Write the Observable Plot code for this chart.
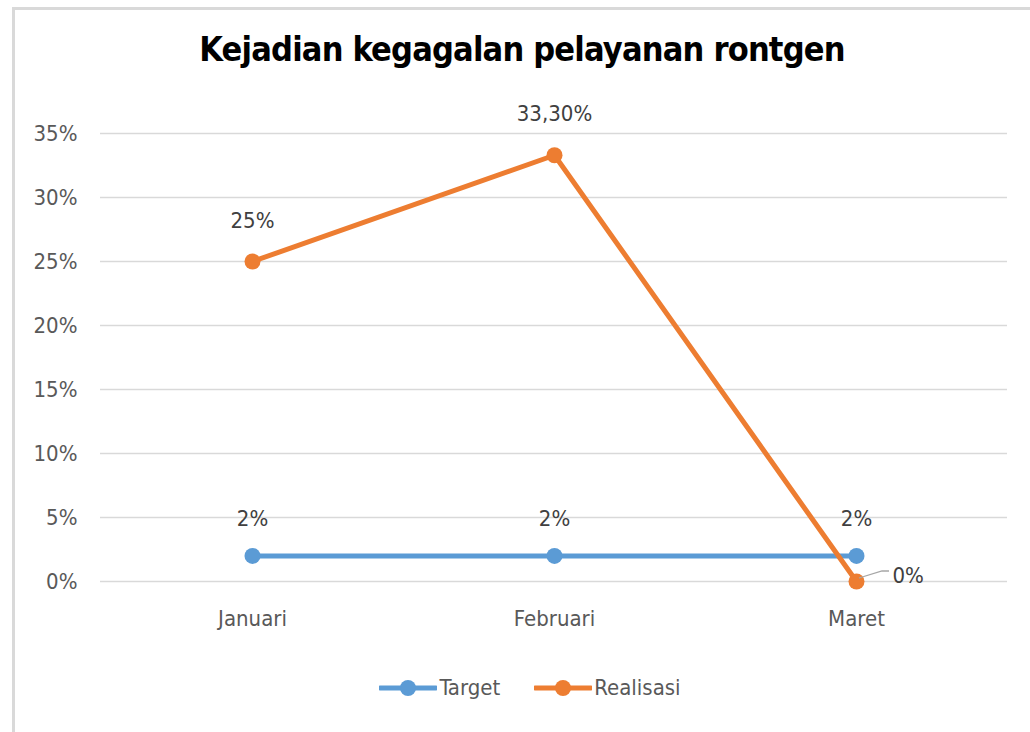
<!DOCTYPE html>
<html>
<head>
<meta charset="utf-8">
<script src="https://cdn.jsdelivr.net/npm/d3@7"></script>
<script src="https://cdn.jsdelivr.net/npm/@observablehq/plot@0.6"></script>
<style>
  html, body { margin: 0; padding: 0; background: #fff; }
  body { width: 1030px; height: 732px; position: relative; overflow: hidden;
         font-family: "Liberation Sans Narrow", "DejaVu Sans Condensed", "Noto Sans", sans-serif; }
  #frame { position: absolute; left: 12px; top: 7px; width: 1030px; height: 740px;
           border-top: 3px solid #d9d9d9; border-left: 3px solid #d9d9d9; }
  #title { position: absolute; left: 0; width: 1044px; top: 29px; text-align: center;
           font-size: 34px; font-weight: bold; color: #000; letter-spacing: -0.8px; }
  #chart { position: absolute; left: 0; top: 100px; }
  #legend { position: absolute; top: 675px; left: 0; width: 1030px; display: flex; justify-content: center;
            font-size: 22px; color: #595959; gap: 34px; padding-left: 30px; box-sizing: border-box; }
  .item { display: flex; align-items: center; gap: 2px; }
</style>
</head>
<body>
<div id="frame"></div>
<div id="title">Kejadian kegagalan pelayanan rontgen</div>
<div id="chart"></div>
<div id="legend"></div>
<script>
const months = ["Januari", "Februari", "Maret"];
const targetValues = [2, 2, 2];
const realisasiValues = [25, 33.3, 0];
const targetLabels = ["2%", "2%", "2%"];
const realisasiLabels = ["25%", "33,30%", "0%"];
const yTicks = [0, 5, 10, 15, 20, 25, 30, 35];
const seriesNames = ["Target", "Realisasi"];
const seriesColors = ["#5B9BD5", "#ED7D31"];

const target = months.map((m, i) => ({month: m, value: targetValues[i], label: targetLabels[i]}));
const realisasi = months.map((m, i) => ({month: m, value: realisasiValues[i], label: realisasiLabels[i]}));

const font = `"Liberation Sans Narrow", "DejaVu Sans Condensed", "Noto Sans", sans-serif`;

const chart = Plot.plot({
  width: 1030,
  height: 560,
  marginLeft: 100,
  marginRight: 23,
  marginTop: 33,
  marginBottom: 79,
  style: {fontFamily: font, background: "transparent", overflow: "visible"},
  x: {type: "point", domain: months, padding: 0.5, label: null},
  y: {domain: [0, 35], ticks: yTicks, label: null},
  marks: [
    Plot.gridY(yTicks, {stroke: "#d9d9d9", strokeOpacity: 1, strokeWidth: 1.3}),
    Plot.axisY(yTicks, {tickSize: 0, tickPadding: 23, fontSize: 22, fill: "#595959",
      tickFormat: d => d + "%", label: null}),
    Plot.axisX({tickSize: 0, tickPadding: 29, fontSize: 22, fill: "#595959", label: null}),
    Plot.line(target, {x: "month", y: "value", stroke: seriesColors[0], strokeWidth: 5}),
    Plot.dot(target, {x: "month", y: "value", r: 8, fill: seriesColors[0]}),
    Plot.line(realisasi, {x: "month", y: "value", stroke: seriesColors[1], strokeWidth: 5}),
    Plot.dot(realisasi, {x: "month", y: "value", r: 8, fill: seriesColors[1]}),
    Plot.text(target, {x: "month", y: "value", text: "label", dy: -37, fontSize: 22, fill: "#404040"}),
    Plot.text(realisasi.slice(0, 2), {x: "month", y: "value", text: "label", dy: -41, fontSize: 22, fill: "#404040"}),
    Plot.text(realisasi.slice(2), {x: "month", y: "value", text: "label", dx: 36, dy: -6, textAnchor: "start", fontSize: 22, fill: "#404040"}),
    // leader line for the last label, positioned via the scales
    (index, scales) => {
      const d = realisasi[2];
      const x = scales.x(d.month), y = scales.y(d.value);
      const g = d3.create("svg:path")
        .attr("d", `M${x + 3},${y - 3}L${x + 26},${y - 10}L${x + 33},${y - 10}`)
        .attr("fill", "none").attr("stroke", "#a6a6a6").attr("stroke-width", 1.3);
      return g.node();
    }
  ]
});
document.getElementById("chart").appendChild(chart);

const legend = document.getElementById("legend");
seriesNames.forEach((name, i) => {
  const item = document.createElement("div");
  item.className = "item";
  item.innerHTML = `<svg width="58" height="20"><line x1="1" y1="10" x2="57" y2="10" stroke="${seriesColors[i]}" stroke-width="5" stroke-linecap="round"/><circle cx="29" cy="10" r="8" fill="${seriesColors[i]}"/></svg><span>${name}</span>`;
  legend.appendChild(item);
});
</script>
</body>
</html>
